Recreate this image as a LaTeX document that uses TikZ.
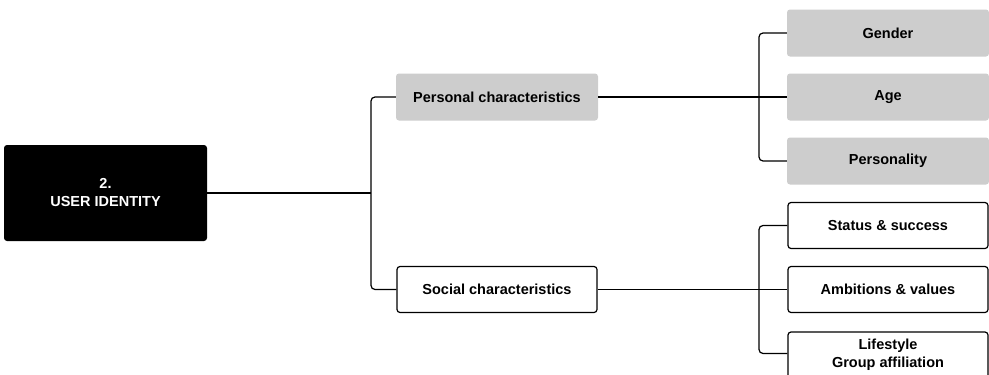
\documentclass[tikz,border=0pt]{standalone}
\usepackage{fontspec}
\setmainfont{Liberation Sans}

\definecolor{boxgray}{RGB}{205,205,205}
\tikzset{
  txt/.style={font=\bfseries\fontsize{14.5}{18}\selectfont, align=center},
  rootbox/.style={txt, fill=black, text=white, rounded corners=3pt,
    minimum width=203pt, minimum height=96pt},
  graybox/.style={txt, fill=boxgray, rounded corners=3pt,
    minimum width=202pt, minimum height=47pt},
  whitebox/.style={txt, draw=black, line width=1.2pt, fill=white, rounded corners=3pt,
    minimum width=200pt, minimum height=46pt},
  link/.style={line width=1.2pt, rounded corners=4pt}
}

\begin{document}
\begin{tikzpicture}[x=1pt, y=-1pt]
  \useasboundingbox (0, 0) rectangle (989, 375);

  % root
  \node[rootbox] (root) at (105.5, 193) {2.\\USER IDENTITY};

  % first level
  \node[graybox] (pers) at (497, 97) {Personal characteristics};
  \node[whitebox] (soc) at (497, 289.5) {Social characteristics};
  \coordinate (bus1) at (371, 193);

  % personal branch
  \node[graybox] (gender) at (888, 33) {Gender};
  \node[graybox] (age) at (888, 97) {Age};
  \node[graybox] (persy) at (888, 161) {Personality};
  \coordinate (bus2) at (759, 97);

  % social branch
  \node[whitebox] (status) at (888, 225.5) {Status \& success};
  \node[whitebox] (ambit) at (888, 289.5) {Ambitions \& values};
  \node[whitebox] (life) at (888, 355) {Lifestyle\\Group affiliation};
  \coordinate (bus3) at (759, 289.5);

  % connectors
  \draw[link] (root.east) -- (bus1);
  \draw[link] (pers.west) -| (bus1) |- (soc.west);
  \draw[link] (pers.east) -- (age.west);
  \draw[link] (gender.west) -| (bus2) |- (persy.west);
  \draw[link] (soc.east) -- (ambit.west);
  \draw[link] (status.west) -| (bus3) |- ([yshift=1.5pt]life.west);
\end{tikzpicture}
\end{document}
